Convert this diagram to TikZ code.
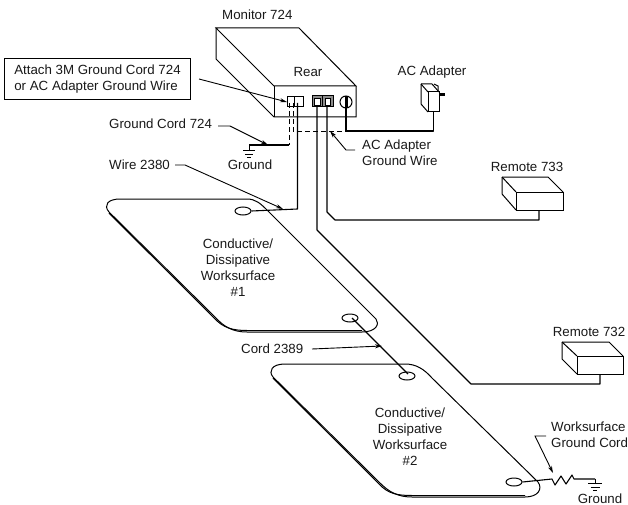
\documentclass[tikz,border=0pt]{standalone}
\usepackage{fontspec}
\setmainfont{Liberation Sans}
\usetikzlibrary{arrows.meta,shapes.geometric}
\tikzset{
  line/.style={draw=black,line width=1pt,line join=miter},
  wire/.style={draw=black,line width=1.1pt,line join=round},
  dashwire/.style={draw=black,line width=0.9pt,dash pattern=on 5pt off 3pt},
  leader/.style={draw=black,line width=0.9pt,-{Stealth[length=7pt,width=4pt]}},
  lbl/.style={inner sep=0pt,font=\fontsize{13.3}{16}\selectfont,text=black!90},
  lblc/.style={lbl,align=center},
  lbll/.style={lbl,align=left,anchor=west},
  hole/.style={draw=black,line width=1pt,fill=white,ellipse,minimum width=16pt,minimum height=8pt,inner sep=0pt},
  portbox/.style={draw=black,line width=1pt,fill=white},
}
\begin{document}
\begin{tikzpicture}[x=1pt,y=-1pt]
\useasboundingbox (0,0) rectangle (628,505);
\fill[white] (0,0) rectangle (628,505);

% worksurface 1
\path[line] (120,199) -- (247,199) .. controls (256,199) and (261,204) .. (268,211)
  -- (376,319) .. controls (380,324) and (376,332) .. (362,332) -- (247,332)
  .. controls (233,332) and (224,327) .. (215,317) -- (109,212)
  .. controls (103,205) and (108,199) .. (120,199) -- cycle;
\draw[line width=1pt] (109,213.2) -- (214.2,318) .. controls (223,328) and (233,330.5) .. (247,330.5) -- (362,330.5);
% worksurface 2
\path[line] (285,364) -- (405,364) .. controls (416,364) and (424,369) .. (432,378)
  -- (538,482) .. controls (543,489) and (538,497) .. (525,497) -- (412,497)
  .. controls (398,497) and (389,492) .. (380,483) -- (273,377)
  .. controls (268,371) and (272,364) .. (285,364) -- cycle;
\draw[line width=1pt] (273,378.2) -- (379.2,484) .. controls (388,494) and (398,495.5) .. (412,495.5) -- (525,495.5);

% holes
\node[hole] (h1) at (243,211) {};
\node[hole] (h2) at (350,318) {};
\node[hole] (h3) at (407,376) {};
\node[hole] (h4) at (514,482) {};

% monitor
\draw[line] (216,28) -- (299,28) -- (356,86) -- (274,86) -- cycle;
\draw[line] (216,28) -- (216,59) -- (274,117) -- (356,117) -- (356,86);
\draw[line] (274,86) -- (274,117);
% monitor ports
\draw[portbox] (287,97) rectangle (303,107);
\draw[line] (294,97) -- (294,107);
\draw[portbox,fill=black!45] (312,96) rectangle (333,107);
\draw[line] (322.5,96) -- (322.5,107);
\fill[white,draw=black,line width=.7pt] (314.5,98.5) rectangle (320,105);
\fill[white,draw=black,line width=.7pt] (325,98.5) rectangle (330.5,105);
\node[draw=black,line width=1pt,circle,minimum size=12pt,inner sep=0pt] (jack) at (346,102) {};
\fill[black] (344.5,96) rectangle (347.5,108);
\coordinate (pGa) at (289,103);
\coordinate (pGb) at (293,103);
\coordinate (pW) at (297.5,103);
\coordinate (p732) at (317,107);
\coordinate (p733) at (327,107);
\coordinate (pAC) at (346,108);

% adapter
\draw[line] (428,92) rectangle (439,112);
\draw[line] (421,84) -- (432,84) -- (439,92);
\draw[line] (421,84) -- (428,92);
\draw[line] (421,84) -- (421,104) -- (428,112);
\draw[line] (434,84) -- (438,86) -- (438,92);
\draw[line,line width=2.2pt] (439,94.5) -- (445,94.5);
\coordinate (acplug) at (433.5,112);

% remotes
\draw[line] (516,192) rectangle (563,210);
\draw[line] (502,177) -- (548,177) -- (563,192);
\draw[line] (502,177) -- (516,192);
\draw[line] (502,177) -- (502,194) -- (516,210);
\coordinate (r733) at (539,210);
\draw[line] (577,356) rectangle (623,374);
\draw[line] (562,342) -- (609,342) -- (623,356);
\draw[line] (562,342) -- (577,356);
\draw[line] (562,342) -- (562,359) -- (577,374);
\coordinate (r732) at (600,374);

% ground symbols
\coordinate (g1) at (249,145);
\draw[line] (g1) -- (249,151);
\draw[line] (243,151) -- (255,151) (245,154.5) -- (253,154.5) (247,158) -- (251,158);
\coordinate (g2) at (595,479);
\draw[line] (g2) -- (595,483.5);
\draw[line] (588,483.5) -- (602,483.5) (590.5,487) -- (599.5,487) (593,490.5) -- (597,490.5);

% wires
\coordinate (dcorner1) at (289,145);
\coordinate (dcorner2) at (293,131);
\coordinate (junction) at (346,131);
\draw[dashwire] (pGa) -- (dcorner1);
\draw[wire] (dcorner1) -- (g1);
\draw[dashwire] (pGb) -- (dcorner2) -- (junction);
\draw[wire] (pAC) -- (junction) -- (433.5,131) -- (acplug);
\draw[wire] (pW) -- (297.5,209) -- (h1.east);
\draw[wire] (p733) -- (327,212) -- (335,220) -- (539,220) -- (r733);
\draw[wire] (p732) -- (317,230) -- (471,384) -- (600,384) -- (r732);
\draw[wire] (352,318) -- (408,374);
\draw[wire] (h4.east) -- (552,479) -- (555,485) -- (561,476) -- (566,484) -- (572,475) -- (574,479) -- (g2);

% labels
\node[lbll] (tMon) at (222,15) {Monitor 724};
\node[lblc] (tRear) at (308,72) {Rear};
\node[lblc] (tAC) at (432,72) {AC Adapter};
\node[lbll] (tACg) at (362,153) {AC Adapter\\Ground Wire};
\node[lbll] (tGC) at (109,124) {Ground Cord 724};
\node[lbll] (tW) at (109,165) {Wire 2380};
\node[lblc] (tG1) at (250,165) {Ground};
\node[lblc] (tR3) at (527,167) {Remote 733};
\node[lblc] (tR2) at (589,332) {Remote 732};
\node[lbll] (tCord) at (241,349) {Cord 2389};
\node[lbll] (tWG) at (551,435) {Worksurface\\Ground Cord};
\node[lblc] (tG2) at (600,498.5) {Ground};
\node[lblc] (tS1) at (238,268) {Conductive/\\Dissipative\\Worksurface\\\#1};
\node[lblc] (tS2) at (410,436.5) {Conductive/\\Dissipative\\Worksurface\\\#2};
\node[draw=black,line width=1pt,lbll,minimum width=186pt,minimum height=41pt,inner xsep=9pt] (tBox) at (4,79.5) {Attach 3M Ground Cord 724\\or AC Adapter Ground Wire};

% leaders
\coordinate (boxL) at (199,79);
\draw[leader] (boxL) -- (287,102);
\draw[leader] (218,126) -- (230,126) -- (268,145);
\draw[leader] (175,165) -- (185,165) -- (283,209);
\draw[leader] (355,150) -- (346,150) -- (330,131);
\draw[leader] (312,349) -- (382,346);
\draw[leader] (546,436) -- (535,436) -- (553,473);
\end{tikzpicture}
\end{document}
